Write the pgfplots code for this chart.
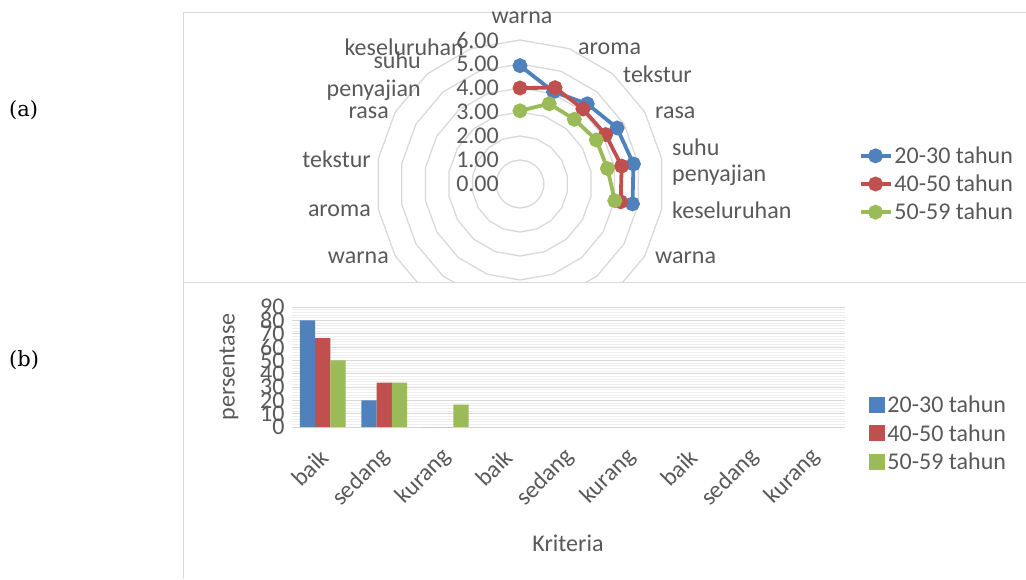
\documentclass[border=0pt]{standalone}
\usepackage{fontspec}
\setmainfont{Carlito}
\newfontfamily\lblfont{DejaVu Serif}
\usepackage{pgfplots}
\pgfplotsset{compat=1.18}
\usepgfplotslibrary{polar}
\definecolor{cb}{HTML}{4F81BD}
\definecolor{cr}{HTML}{C0504D}
\definecolor{cg}{HTML}{9BBB59}
\definecolor{txt}{HTML}{595959}
\definecolor{grd}{HTML}{D9D9D9}
\begin{document}
\begin{tikzpicture}[x=1pt,y=1pt,font=\fontsize{24}{28}\selectfont]
\useasboundingbox (0,0) rectangle (1026,-579);
\draw[grd, line width=1pt] (183,-579) -- (183,-12) -- (1026,-12);
\draw[grd, line width=1pt] (183,-282) -- (1026,-282);
\node[font=\lblfont\fontsize{21}{25}\selectfont, anchor=west, inner sep=0] at (9,-110) {(a)};
\node[font=\lblfont\fontsize{21}{25}\selectfont, anchor=west, inner sep=0] at (9,-360) {(b)};

\begin{scope}
\clip (184,-13) rectangle (1026,-281);
\begin{polaraxis}[
  at={(520pt,-184pt)}, anchor=center,
  scale only axis, width=288pt, height=288pt,
  ymin=0, ymax=6, clip=false,
  axis line style={draw=none}, xtick=\empty, ytick=\empty,
  legend style={at={(axis description cs:1.675,0.5)}, anchor=west, draw=none, fill=none,
    font=\fontsize{24}{28}\selectfont, text=txt, row sep=6pt, inner sep=0pt,
    nodes={inner sep=2pt}},
  legend image code/.code={\draw[#1,mark repeat=2,mark phase=2] plot coordinates {(0pt,0pt)(15pt,0pt)(30pt,0pt)};},
]
\pgfplotsinvokeforeach{1,2,3,4,5,6}{
\addplot[grd, line width=1.3pt, no marks, forget plot] coordinates {(90,#1)(70,#1)(50,#1)(30,#1)(10,#1)(-10,#1)(-30,#1)(-50,#1)(-70,#1)(-90,#1)(-110,#1)(-130,#1)(-150,#1)(-170,#1)(-190,#1)(-210,#1)(-230,#1)(-250,#1)(-270,#1)};
}
\addplot[cb, line width=3.8pt, mark=*, mark size=5.5pt] coordinates {(90,4.93)(70,4.09)(50,4.36)(30,4.67)(10,4.80)(-10,4.76)};
\addlegendentry{20-30 tahun}
\addplot[cr, line width=3.8pt, mark=*, mark size=5.5pt] coordinates {(90,4.00)(70,4.27)(50,4.08)(30,4.12)(10,4.30)(-10,4.26)};
\addlegendentry{40-50 tahun}
\addplot[cg, line width=3.8pt, mark=*, mark size=5.5pt] coordinates {(90,3.05)(70,3.56)(50,3.52)(30,3.67)(10,3.70)(-10,4.01)};
\addlegendentry{50-59 tahun}
\end{polaraxis}
\end{scope}

\begin{scope}[every node/.style={text=txt, inner sep=0pt}]
\node[anchor=east] at (499,-184) {0.00};
\node[anchor=east] at (499,-160) {1.00};
\node[anchor=east] at (499,-136) {2.00};
\node[anchor=east] at (499,-112) {3.00};
\node[anchor=east] at (499,-88) {4.00};
\node[anchor=east] at (499,-64) {5.00};
\node[anchor=east] at (499,-40) {6.00};
\node[anchor=center] at (522,-18) {warna};
\node[anchor=west] at (578,-49) {aroma};
\node[anchor=west] at (623,-74) {tekstur};
\node[anchor=west] at (655,-113) {rasa};
\node[anchor=west] at (672,-147) {suhu};
\node[anchor=west] at (672,-175) {penyajian};
\node[anchor=west] at (672,-210) {keseluruhan};
\node[anchor=west] at (655,-258) {warna};
\node[anchor=east] at (464,-47) {keseluruhan};
\node[anchor=east] at (421,-60) {suhu};
\node[anchor=east] at (421,-90) {penyajian};
\node[anchor=east] at (389,-113) {rasa};
\node[anchor=east] at (371,-159) {tekstur};
\node[anchor=east] at (371,-211) {aroma};
\node[anchor=east] at (389,-258) {warna};
\end{scope}

\begin{axis}[
  at={(292pt,-427pt)}, anchor=south west,
  scale only axis, width=553.5pt, height=120pt,
  xmin=-0.5, xmax=8.5, ymin=0, ymax=90,
  ybar=0pt, bar width=15.3pt,
  xtick={0,1,2,3,4,5,6,7,8},
  xticklabels={baik,sedang,kurang,baik,sedang,kurang,baik,sedang,kurang},
  ytick={0,10,20,30,40,50,60,70,80,90},
  ymajorgrids, yminorgrids, minor y tick num=4,
  major grid style={grd, line width=1pt},
  minor grid style={grd!45, line width=0.8pt},
  axis line style={draw=none},
  major tick length=0pt, minor tick length=0pt,
  /pgf/number format/assume math mode=true,
  tick label style={text=txt, font=\fontsize{24}{28}\selectfont},
  yticklabel style={xshift=-4pt},
  xticklabel style={xshift=4pt, yshift=-24pt, rotate=45, anchor=east},
  ylabel={persentase}, xlabel={Kriteria},
  label style={text=txt, font=\fontsize{24}{28}\selectfont},
  ylabel style={at={(axis description cs:-0.114,0.5)}, anchor=center},
  xlabel style={at={(axis description cs:0.4986,-0.967)}, anchor=center},
  legend style={at={(axis description cs:1.043,-0.054)}, anchor=west, draw=none, fill=none,
    font=\fontsize{24}{28}\selectfont, text=txt, row sep=6pt, inner sep=0pt,
    nodes={inner sep=2pt}},
  legend image code/.code={\fill[#1] (0pt,-8pt) rectangle (16pt,8pt);},
]
\addplot[fill=cb, draw=none] coordinates {(0,80)(1,20)(2,0)};
\addlegendentry{20-30 tahun}
\addplot[fill=cr, draw=none] coordinates {(0,66.7)(1,33.3)(2,0)};
\addlegendentry{40-50 tahun}
\addplot[fill=cg, draw=none] coordinates {(0,50)(1,33.3)(2,16.7)};
\addlegendentry{50-59 tahun}
\end{axis}
\end{tikzpicture}
\end{document}
